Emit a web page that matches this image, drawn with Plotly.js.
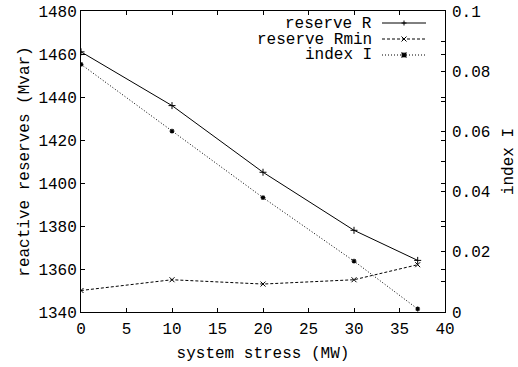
<!DOCTYPE html>
<html>
<head>
<meta charset="utf-8">
<script src="https://cdn.plot.ly/plotly-3.0.1.min.js"></script>
<style>html,body{margin:0;padding:0;background:#fff;} #chart{width:518px;height:367px;}</style>
</head>
<body>
<div id="chart"></div>
<script>
// ---- data ----
const stress = [0, 10, 20, 30, 37];
const reserveR = [1461, 1436, 1405, 1378, 1364];
const reserveRmin = [1350, 1355, 1353, 1355, 1362];
const indexI = [0.0823, 0.0601, 0.0380, 0.0169, 0.0010];
const seriesNames = ["reserve R", "reserve Rmin", "index I"];

// ---- layout geometry ----
const W = 518, H = 367;
const M = {l: 81, r: 73, t: 11, b: 55};
const PW = W - M.l - M.r, PH = H - M.t - M.b;
const px = p => (p - M.l) / PW;
const py = p => (H - M.b - p) / PH;

const FONT = {family: "Liberation Mono", size: 16, color: "#000"};

const traces = [
  {x: stress, y: reserveR, name: seriesNames[0], mode: "lines+markers", type: "scatter",
   line: {color: "#000", width: 1, dash: "solid"}, marker: {symbol: "cross-thin-open", size: 5, color: "#000", line: {color: "#000", width: 1}}},
  {x: stress, y: reserveRmin, name: seriesNames[1], mode: "lines+markers", type: "scatter",
   line: {color: "#000", width: 1, dash: "3px,2px"}, marker: {symbol: "x-thin-open", size: 5, color: "#000", line: {color: "#000", width: 1}}},
  {x: stress, y: indexI, name: seriesNames[2], yaxis: "y2", mode: "lines+markers", type: "scatter",
   line: {color: "#000", width: 1, dash: "1px,2px"}, marker: {symbol: "asterisk-open", size: 4, color: "#000", line: {color: "#000", width: 1.2}}}
];

// manual gnuplot-style legend (text left of sample)
const legY = [23, 39, 55];
const legTextRight = 373, legL0 = 382, legL1 = 426, legM = 404;
const dashes = ["solid", "3px,2px", "1px,2px"];
const shapes = [];
const annotations = [];
seriesNames.forEach((n, i) => {
  annotations.push({xref: "paper", yref: "paper", x: px(legTextRight), y: py(legY[i]), text: n,
    showarrow: false, xanchor: "right", yanchor: "middle", font: FONT, borderpad: 0, height: 15});
  shapes.push({type: "line", xref: "paper", yref: "paper", x0: px(legL0), x1: px(legL1), y0: py(legY[i]), y1: py(legY[i]),
    line: {color: "#000", width: 1, dash: dashes[i]}});
  const c = legY[i], s = 2.5;
  const X = v => px(v), Y = v => py(v);
  const seg = (a, b, c2, d) => `M${X(a)},${Y(b)} L${X(c2)},${Y(d)} `;
  let path;
  if (i === 0) path = seg(legM - s, c, legM + s, c) + seg(legM, c - s, legM, c + s);
  else if (i === 1) path = seg(legM - s, c - s, legM + s, c + s) + seg(legM - s, c + s, legM + s, c - s);
  else path = seg(legM - s, c - s, legM + s, c + s) + seg(legM - s, c + s, legM + s, c - s) + seg(legM - s, c, legM + s, c) + seg(legM, c - s, legM, c + s);
  shapes.push({type: "path", xref: "paper", yref: "paper", path: path, line: {color: "#000", width: i === 2 ? 1.3 : 1}});
});

const layout = {
  width: W, height: H,
  margin: M,
  paper_bgcolor: "#fff", plot_bgcolor: "#fff",
  font: FONT,
  showlegend: false,
  xaxis: {range: [0, 40], dtick: 5, tick0: 0, showgrid: false, zeroline: false,
    showline: true, linecolor: "#000", linewidth: 1, mirror: "ticks",
    ticks: "inside", ticklen: 4, tickcolor: "#000", tickfont: FONT, ticklabelstandoff: 2,
    title: {text: "system stress (MW)", font: FONT, standoff: 8}},
  yaxis: {range: [1340, 1480], dtick: 20, showgrid: false, zeroline: false,
    showline: true, linecolor: "#000", linewidth: 1, mirror: "ticks",
    ticks: "inside", ticklen: 4, tickcolor: "#000", tickfont: FONT,
    title: {text: "reactive reserves (Mvar)", font: FONT, standoff: 4}},
  yaxis2: {range: [0, 0.1], dtick: 0.02, overlaying: "y", side: "right", showgrid: false, zeroline: false,
    showline: false, ticks: "inside", ticklen: 4, tickcolor: "#000", tickfont: FONT,
    tickformat: "~g", ticklabelstandoff: 6,
    minor: {dtick: 0.01, ticks: "inside", ticklen: 4, tickcolor: "#000"},
    title: {text: "index I", font: FONT, standoff: 14}},
  shapes: shapes,
  annotations: annotations
};

Plotly.newPlot("chart", traces, layout, {staticPlot: true, displayModeBar: false});
</script>
</body>
</html>
